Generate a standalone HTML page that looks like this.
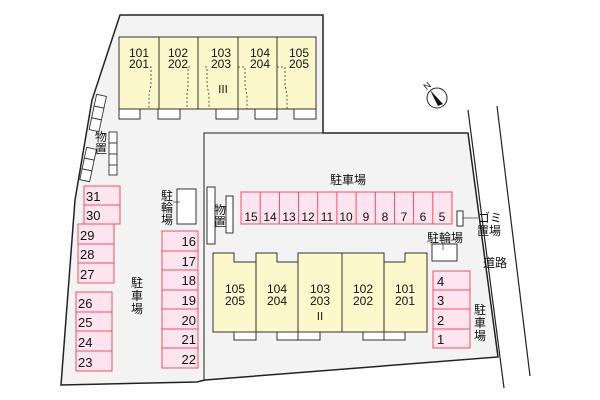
<!DOCTYPE html>
<html><head><meta charset="utf-8"><style>
html,body{margin:0;padding:0;background:#fff}
svg{display:block}
text{font-family:"Liberation Sans","Noto Sans CJK JP",sans-serif;fill:#111}
</style></head><body>
<svg width="600" height="400" viewBox="0 0 600 400" xmlns="http://www.w3.org/2000/svg">
<polygon points="120,15 323,15 323,133 468,133 498,357 205,380 197,382 61,385 75,200 92,100" fill="#f3f3f3" stroke="#222" stroke-width="1.5"/>
<polyline points="204,380 204,133 323,133" fill="none" stroke="#222" stroke-width="1"/>
<line x1="468" y1="110" x2="504" y2="388" stroke="#222" stroke-width="1.2"/>
<line x1="497" y1="106" x2="530" y2="376" stroke="#222" stroke-width="1.2"/>
<!-- compass -->
<circle cx="437" cy="98" r="10" fill="#fff" stroke="#222"/>
<polygon points="430,90 443,104 438,106" fill="#111"/>
<text x="424" y="89" font-size="9" transform="rotate(-40 427 86)">N</text>
<!-- building III -->
<rect x="119" y="37" width="197" height="72" fill="#fdf8cc" stroke="#333"/>
<g stroke="#333"><line x1="159" y1="37" x2="159" y2="109"/><line x1="198" y1="37" x2="198" y2="109"/><line x1="238" y1="37" x2="238" y2="109"/><line x1="277" y1="37" x2="277" y2="109"/></g>
<g fill="none" stroke="#333" stroke-dasharray="2,2" stroke-width="0.8">
<path d="M150,67 H151 V85 L149,95 V109"/><path d="M190,67 H188 V85 L187,95 V109"/><path d="M205,67 H207 V85 L209,95 V109"/><path d="M238,67 H245 V85 L247,95 V109"/><path d="M277,67 H285 V85 L287,95 V109"/>
</g>
<g fill="#fff" stroke="#333"><rect x="119" y="109" width="21" height="10"/><rect x="158" y="109" width="22" height="10"/><rect x="216" y="109" width="22" height="10"/><rect x="255" y="109" width="22" height="10"/><rect x="294" y="109" width="22" height="10"/></g>
<g font-size="12" text-anchor="middle">
<text x="139" y="57">101</text><text x="139" y="68">201</text>
<text x="178" y="57">102</text><text x="178" y="68">202</text>
<text x="221" y="57">103</text><text x="221" y="68">203</text>
<text x="260" y="57">104</text><text x="260" y="68">204</text>
<text x="299" y="57">105</text><text x="299" y="68">205</text>
<text x="223" y="93" font-size="11">Ⅲ</text>
</g>
<!-- left storage -->
<g fill="#fff" stroke="#333" stroke-width="0.9">
<g transform="rotate(12 98 112)"><rect x="93" y="95" width="10" height="12"/><rect x="93" y="107" width="10" height="12"/><rect x="93" y="119" width="10" height="12"/></g>
<g transform="rotate(12 88 165)"><rect x="83" y="148" width="10" height="11"/><rect x="83" y="159" width="10" height="11"/><rect x="83" y="170" width="10" height="11"/></g>
<rect x="109" y="132" width="8" height="11"/><rect x="109" y="143" width="8" height="11"/><rect x="109" y="154" width="8" height="11"/><rect x="109" y="165" width="8" height="10"/>
</g>
<text x="101" y="141" font-size="12" text-anchor="middle">物</text><text x="101" y="153" font-size="12" text-anchor="middle">置</text>
<!-- left parking -->
<g fill="#fde4ee" stroke="#f0506a">
<rect x="84" y="186" width="36" height="19"/><rect x="84" y="205" width="36" height="19"/>
<rect x="78" y="224" width="36" height="20"/><rect x="78" y="244" width="36" height="19"/><rect x="78" y="263" width="36" height="20"/>
<rect x="76" y="292" width="36" height="20"/><rect x="76" y="312" width="36" height="19"/><rect x="76" y="331" width="36" height="20"/><rect x="76" y="351" width="36" height="20"/>
</g>
<g font-size="13">
<text x="86" y="201">31</text><text x="86" y="220">30</text>
<text x="80" y="240">29</text><text x="80" y="259">28</text><text x="80" y="279">27</text>
<text x="78" y="308">26</text><text x="78" y="327">25</text><text x="78" y="347">24</text><text x="78" y="367">23</text>
</g>
<g fill="#fde4ee" stroke="#f0506a">
<rect x="162" y="231" width="36" height="20"/><rect x="162" y="251" width="36" height="19"/><rect x="162" y="270" width="36" height="20"/><rect x="162" y="290" width="36" height="19"/><rect x="162" y="309" width="36" height="20"/><rect x="162" y="329" width="36" height="19"/><rect x="162" y="348" width="36" height="20"/>
</g>
<g font-size="13" text-anchor="end">
<text x="196" y="246">16</text><text x="196" y="266">17</text><text x="196" y="285">18</text><text x="196" y="305">19</text><text x="196" y="325">20</text><text x="196" y="344">21</text><text x="196" y="364">22</text>
</g>
<g font-size="12" text-anchor="middle">
<text x="137" y="287">駐</text><text x="137" y="300">車</text><text x="137" y="313">場</text>
<text x="167" y="200">駐</text><text x="167" y="212">輪</text><text x="167" y="224">場</text>
</g>
<rect x="177" y="189" width="19" height="35" fill="#fff" stroke="#333"/>
<line x1="173" y1="202" x2="180" y2="202" stroke="#333" stroke-width="0.7"/>
<!-- middle storage -->
<rect x="207" y="187" width="8" height="57" fill="#fff" stroke="#333"/>
<rect x="226" y="196" width="7" height="37" fill="#fff" stroke="#333"/>
<text x="220" y="214" font-size="12" text-anchor="middle">物</text><text x="220" y="226" font-size="12" text-anchor="middle">置</text>
<!-- top parking 5-15 -->
<text x="348" y="184" font-size="12" text-anchor="middle">駐車場</text>
<g fill="#fde4ee" stroke="#f0506a">
<rect x="241" y="192" width="211" height="32"/>
</g>
<g stroke="#f0506a"><line x1="260.2" y1="192" x2="260.2" y2="224"/><line x1="279.4" y1="192" x2="279.4" y2="224"/><line x1="298.5" y1="192" x2="298.5" y2="224"/><line x1="317.7" y1="192" x2="317.7" y2="224"/><line x1="336.9" y1="192" x2="336.9" y2="224"/><line x1="356.1" y1="192" x2="356.1" y2="224"/><line x1="375.3" y1="192" x2="375.3" y2="224"/><line x1="394.5" y1="192" x2="394.5" y2="224"/><line x1="413.6" y1="192" x2="413.6" y2="224"/><line x1="432.8" y1="192" x2="432.8" y2="224"/></g>
<g font-size="12" text-anchor="middle">
<text x="251" y="221">15</text><text x="270" y="221">14</text><text x="289" y="221">13</text><text x="308" y="221">12</text><text x="327" y="221">11</text><text x="346" y="221">10</text><text x="366" y="221">9</text><text x="385" y="221">8</text><text x="404" y="221">7</text><text x="423" y="221">6</text><text x="442" y="221">5</text>
</g>
<!-- gomi -->
<rect x="457" y="211" width="6" height="15" fill="#fff" stroke="#333"/>
<line x1="463" y1="218" x2="478" y2="218" stroke="#333" stroke-width="0.7"/>
<text x="478" y="222" font-size="12">ゴミ</text><text x="477" y="235" font-size="12">置場</text>
<text x="483" y="267" font-size="12">道路</text>
<!-- right bike -->
<text x="445" y="242" font-size="12" text-anchor="middle">駐輪場</text>
<rect x="432" y="244" width="25" height="17" fill="#fff" stroke="#333"/>
<line x1="443" y1="242" x2="443" y2="250" stroke="#333" stroke-width="0.7"/>
<!-- building II -->
<path d="M213,253 H234 V262 H256 V253 H277 V262 H298 V253 H384 V262 H405 V253 H427 V332 H213 Z" fill="#fdf8cc" stroke="#333"/>
<g stroke="#333"><line x1="256" y1="253" x2="256" y2="332"/><line x1="298" y1="262" x2="298" y2="332"/><line x1="342" y1="253" x2="342" y2="332"/><line x1="384" y1="253" x2="384" y2="332"/></g>
<g fill="#fff" stroke="#333"><rect x="234" y="332" width="22" height="8"/><rect x="277" y="332" width="21" height="8"/><rect x="298" y="332" width="22" height="8"/><rect x="363" y="332" width="21" height="8"/><rect x="384" y="332" width="21" height="8"/></g>
<g font-size="12" text-anchor="middle">
<text x="235" y="293">105</text><text x="235" y="305">205</text>
<text x="277" y="293">104</text><text x="277" y="305">204</text>
<text x="320" y="293">103</text><text x="320" y="305">203</text>
<text x="363" y="293">102</text><text x="363" y="305">202</text>
<text x="405" y="293">101</text><text x="405" y="305">201</text>
<text x="320" y="320" font-size="11">Ⅱ</text>
</g>
<!-- right parking -->
<g fill="#fde4ee" stroke="#f0506a">
<rect x="433" y="271" width="37" height="19"/><rect x="433" y="290" width="37" height="19"/><rect x="433" y="309" width="37" height="20"/><rect x="433" y="329" width="37" height="19"/>
</g>
<g font-size="13"><text x="437" y="286">4</text><text x="437" y="305">3</text><text x="437" y="325">2</text><text x="437" y="344">1</text></g>
<g font-size="12" text-anchor="middle"><text x="480" y="314">駐</text><text x="480" y="327">車</text><text x="480" y="340">場</text></g>
</svg>
</body></html>
